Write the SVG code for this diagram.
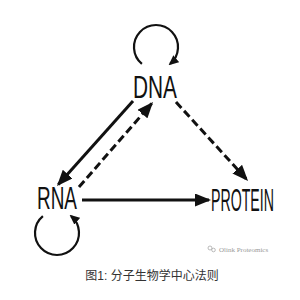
<svg xmlns="http://www.w3.org/2000/svg" width="300" height="300" viewBox="0 0 300 300">
<style>
.lbl{font-family:"Liberation Sans","DejaVu Sans",sans-serif;font-size:31px;fill:#111}
.ln{stroke:#111;stroke-width:3;fill:none}
.dash{stroke-dasharray:8 4}
.loop{stroke:#111;stroke-width:2.2;fill:none}
.cap{font-family:"Liberation Sans","Noto Sans CJK SC",sans-serif;font-size:12px;fill:#333}
.wm{font-family:"Liberation Serif",serif;font-size:7px;fill:#999}
</style>
<defs>
<marker id="ah" markerUnits="userSpaceOnUse" viewBox="0 0 16 13" markerWidth="16" markerHeight="13" refX="14" refY="6.5" orient="auto">
<path d="M0,0 L16,6.5 L0,13 z" fill="#111"/>
</marker>
<marker id="ahs" markerUnits="userSpaceOnUse" viewBox="0 0 10 9" markerWidth="10" markerHeight="9" refX="8" refY="4.5" orient="auto">
<path d="M0,0 L10,4.5 L0,9 z" fill="#111"/>
</marker>
</defs>
<rect width="300" height="300" fill="#fff"/>
<g id="connectors">
<line class="ln" x1="133" y1="101" x2="58.3" y2="184.5" marker-end="url(#ah)"/>
<line class="ln dash" x1="79" y1="187" x2="151.7" y2="103.5" marker-end="url(#ah)"/>
<line class="ln dash" x1="176" y1="102" x2="246.7" y2="179.5" marker-end="url(#ah)"/>
<line class="ln" x1="82" y1="200" x2="209" y2="200" marker-end="url(#ah)"/>
<path class="loop" d="M141.9,63.9 A22,22 0 1 1 170.1,63.9" marker-end="url(#ahs)"/>
<path class="loop" d="M42.9,216.1 A22,22 0 1 0 71.1,216.1" marker-end="url(#ahs)"/>
</g>
<g id="dna"><text class="lbl" x="133" y="98" textLength="44" lengthAdjust="spacingAndGlyphs">DNA</text></g>
<g id="rna"><text class="lbl" x="37" y="209" textLength="40" lengthAdjust="spacingAndGlyphs">RNA</text></g>
<g id="protein"><text class="lbl" x="211" y="211" textLength="63" lengthAdjust="spacingAndGlyphs">PROTEIN</text></g>
<g id="watermark">
<circle cx="210" cy="248" r="2" fill="none" stroke="#aaa" stroke-width="0.8"/>
<circle cx="213.5" cy="250" r="1.8" fill="none" stroke="#aaa" stroke-width="0.8"/>
<text class="wm" x="219" y="252">Olink Proteomics</text>
</g>
<text class="cap" x="152" y="280" text-anchor="middle">图1: 分子生物学中心法则</text>
</svg>
